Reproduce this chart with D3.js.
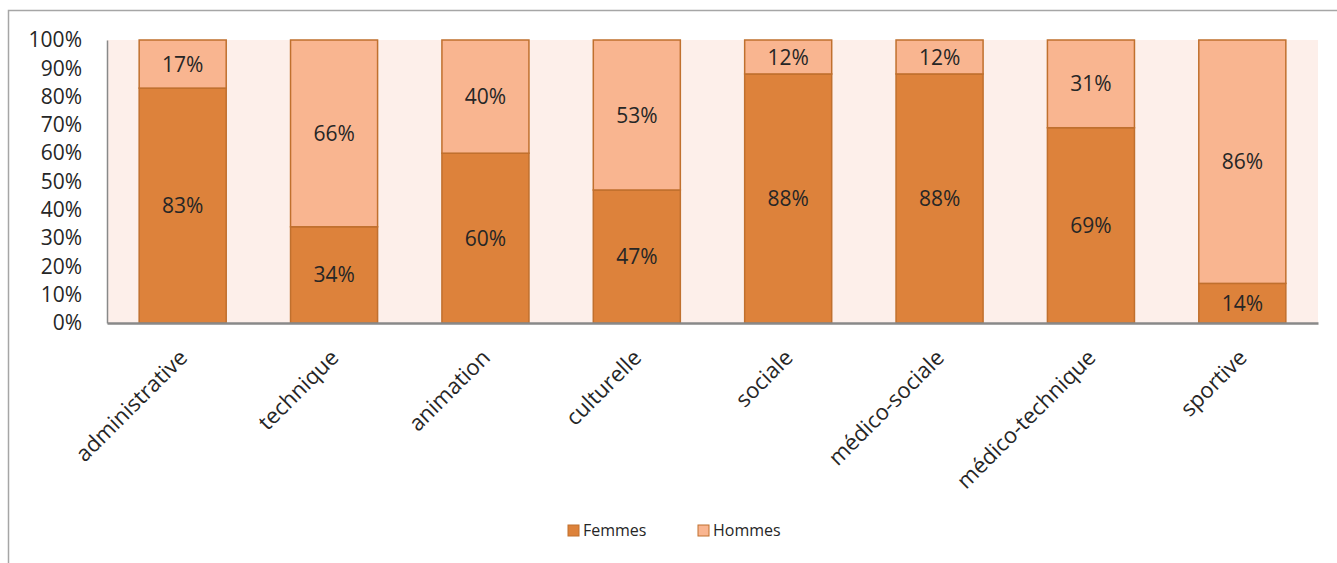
<!DOCTYPE html>
<html><head><meta charset="utf-8">
<script src="https://cdn.jsdelivr.net/npm/d3@7"></script>
<style>body{margin:0;background:#fff;}svg{display:block;font-family:"Open Sans",sans-serif;}</style>
</head><body><svg id="c" width="1337" height="563"></svg>
<script>
const categories = ["administrative","technique","animation","culturelle","sociale","médico-sociale","médico-technique","sportive"];
const femmes = [83,34,60,47,88,88,69,14];
const hommes = [17,66,40,53,12,12,31,86];
const yTicks = [0,10,20,30,40,50,60,70,80,90,100];
const seriesNames = ["Femmes","Hommes"];
const colors = ["#dd823b","#f9b590"];

const svg = d3.select("#c");
const m = {l:107, r:1318, t:40, b:323};
const x = d3.scaleBand().domain(categories).range([m.l,m.r]).paddingInner(0.425).paddingOuter(0.2125);
const y = d3.scaleLinear().domain([0,100]).range([m.b,m.t]);

// outer border
svg.append("path").attr("d","M8.5,563 V10.5 H1337").attr("fill","none").attr("stroke","#a6a6a6").attr("stroke-width",1.5);

// plot background
svg.append("rect").attr("x",m.l).attr("y",m.t).attr("width",m.r-m.l).attr("height",m.b-m.t).attr("fill","#fdefea");

const data = categories.map((c,i)=>({cat:c, Femmes:femmes[i], Hommes:hommes[i]}));
const stack = d3.stack().keys(seriesNames)(data);

const g = svg.append("g");
stack.forEach((s,si)=>{
  g.selectAll(null).data(s).join("rect")
    .attr("x",d=>x(d.data.cat)).attr("width",x.bandwidth())
    .attr("y",d=>y(d[1])).attr("height",d=>y(d[0])-y(d[1]))
    .attr("fill",colors[si]).attr("stroke","#c0702e").attr("stroke-width",1.5);
  g.selectAll(null).data(s).join("text")
    .attr("x",d=>x(d.data.cat)+x.bandwidth()/2)
    .attr("y",d=>(y(d[0])+y(d[1]))/2)
    .attr("dy","0.36em").attr("text-anchor","middle")
    .attr("font-size",21).attr("fill","#262626")
    .text(d=>(d[1]-d[0])+"%");
});

// y axis
const ya = svg.append("g").attr("transform",`translate(${m.l},0)`)
  .call(d3.axisLeft(y).tickValues(yTicks).tickSize(0).tickPadding(25).tickFormat(d=>d+"%"));
ya.select(".domain").attr("stroke","#898989").attr("stroke-width",1.5);
ya.selectAll("text").attr("font-size",21).attr("fill","#262626").attr("font-family","Open Sans");

// x axis
const xa = svg.append("g").attr("transform",`translate(0,${m.b})`)
  .call(d3.axisBottom(x).tickSize(0).tickFormat(""));
xa.select(".domain").attr("stroke","#898989").attr("stroke-width",2.5);

svg.append("g").selectAll("text").data(categories).join("text")
  .attr("transform",d=>`translate(${x(d)+x.bandwidth()/2+6},${m.b+36}) rotate(-45)`)
  .attr("text-anchor","end").attr("font-size",22).attr("fill","#262626")
  .text(d=>d);

// legend
const lg = svg.append("g");
const lx = [568,698];
seriesNames.forEach((n,i)=>{
  lg.append("rect").attr("x",lx[i]).attr("y",525).attr("width",11).attr("height",11)
    .attr("fill",colors[i]).attr("stroke","#c0702e").attr("stroke-width",1);
  lg.append("text").attr("x",lx[i]+15).attr("y",536).attr("font-size",16).attr("fill","#262626").text(n);
});
</script></body></html>
